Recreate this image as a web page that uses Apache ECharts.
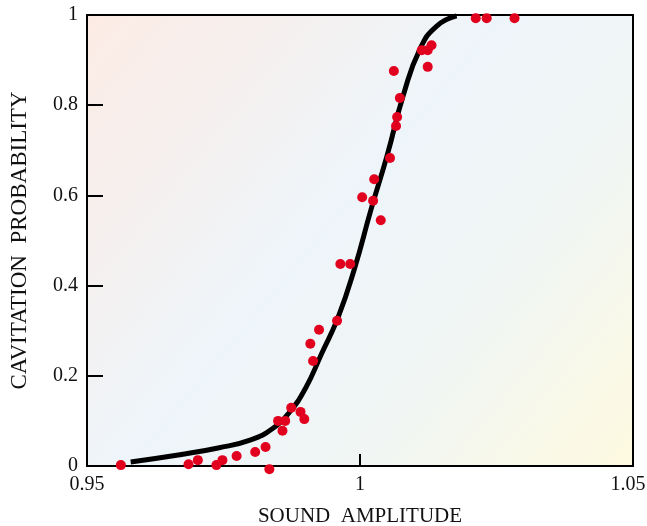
<!DOCTYPE html>
<html>
<head>
<meta charset="utf-8">
<script src="https://cdn.jsdelivr.net/npm/echarts@6/dist/echarts.min.js"></script>
<style>
  html, body { margin: 0; padding: 0; background: #fff; }
  #chart { width: 647px; height: 526px; }
</style>
</head>
<body>
<div id="chart"></div>
<script>
// measured points: sound amplitude vs cavitation probability
var amplitude = [
  0.9562, 0.9686, 0.9703, 0.9737, 0.9748, 0.9774, 0.9808, 0.9827, 0.9834,
  0.9850, 0.9863, 0.9858, 0.9874, 0.9891, 0.9898, 0.9914, 0.9909, 0.9925,
  0.9958, 0.9964, 0.9982, 1.0004, 1.0024, 1.0026, 1.0038, 1.0055, 1.0066,
  1.0068, 1.0073, 1.0062, 1.0113, 1.0124, 1.0131, 1.0124, 1.0212, 1.0232, 1.0283
]
var probability = [
  0.002, 0.004, 0.013, 0.002, 0.013, 0.022, 0.031, 0.042, -0.007,
  0.100, 0.100, 0.078, 0.129, 0.120, 0.104, 0.233, 0.271, 0.302,
  0.322, 0.448, 0.448, 0.596, 0.588, 0.636, 0.545, 0.683, 0.754,
  0.774, 0.816, 0.876, 0.922, 0.922, 0.933, 0.885, 0.993, 0.993, 0.993
]

// fitted curve
var fitX = [
  0.9580, 0.9670, 0.9740, 0.9800, 0.9840, 0.9870, 0.9900, 0.9930,
  0.9960, 0.9990, 1.0020, 1.0050, 1.0080, 1.0110, 1.0140, 1.0177
]
var fitY = [
  0.009, 0.025, 0.040, 0.058, 0.083, 0.118, 0.172, 0.250,
  0.330, 0.438, 0.568, 0.690, 0.825, 0.925, 0.975, 0.998
]

var yTicks = [0, 0.2, 0.4, 0.6, 0.8, 1]
var xTicks = [0.95, 1, 1.05]

var chart = echarts.init(document.getElementById('chart'))
var font = 'Liberation Serif, DejaVu Serif, serif'

function nearest(list, v) {
  return list.reduce(function (a, b) { return Math.abs(b - v) < Math.abs(a - v) ? b : a })
}

chart.setOption({
  animation: false,
  grid: {
    left: 87,
    right: 14,
    top: 15,
    bottom: 60,
    outerBoundsMode: 'none',
    show: true,
    borderColor: '#000',
    borderWidth: 2,
    backgroundColor: new echarts.graphic.LinearGradient(0, 0, 1, 1, [
      { offset: 0, color: '#fcebe4' },
      { offset: 0.45, color: '#eef5fa' },
      { offset: 0.7, color: '#f1f6f4' },
      { offset: 1, color: '#fefae0' }
    ])
  },
  xAxis: {
    type: 'value',
    min: 0.95,
    max: 1.05,
    interval: 0.05,
    name: 'SOUND  AMPLITUDE',
    nameLocation: 'middle',
    nameGap: 40,
    nameTextStyle: { fontFamily: font, fontSize: 21, color: '#111' },
    axisLine: { show: true, lineStyle: { color: '#000', width: 2 } },
    axisTick: { show: true, inside: true, length: 12, lineStyle: { color: '#000', width: 2 } },
    splitLine: { show: false },
    axisLabel: {
      fontFamily: font,
      fontSize: 20,
      color: '#111',
      margin: 9,
      formatter: function (v) {
        var t = nearest(xTicks, v)
        // last label sits a bit left of its tick so it stays inside the page
        return t === xTicks[xTicks.length - 1] ? '{last|' + t + '}' : String(t)
      },
      rich: {
        last: { fontFamily: font, fontSize: 20, color: '#111', padding: [0, 10, 0, 0] }
      }
    }
  },
  yAxis: {
    type: 'value',
    min: 0,
    max: 1,
    interval: 0.2,
    name: 'CAVITATION  PROBABILITY',
    nameLocation: 'middle',
    nameGap: 56,
    nameTextStyle: { fontFamily: font, fontSize: 23, color: '#111' },
    axisLine: { show: true, lineStyle: { color: '#000', width: 2 } },
    axisTick: { show: true, inside: true, length: 16, lineStyle: { color: '#000', width: 2 } },
    splitLine: { show: false },
    axisLabel: {
      fontFamily: font,
      fontSize: 20,
      color: '#111',
      margin: 9,
      formatter: function (v) { return String(nearest(yTicks, v)) }
    }
  },
  series: [
    {
      type: 'line',
      data: fitX.map(function (x, i) { return [x, fitY[i]] }),
      smooth: 0.5,
      showSymbol: false,
      lineStyle: { color: '#000', width: 5 },
      z: 2
    },
    {
      type: 'scatter',
      data: amplitude.map(function (x, i) { return [x, probability[i]] }),
      symbolSize: 10,
      clip: false,
      itemStyle: { color: '#e2001f', opacity: 1 },
      z: 3
    }
  ]
})
</script>
</body>
</html>
